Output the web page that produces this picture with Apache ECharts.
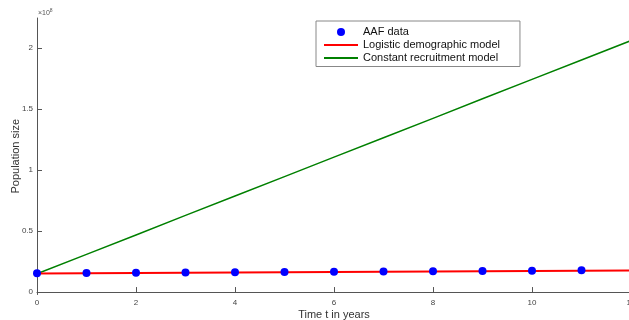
<!DOCTYPE html>
<html>
<head>
<meta charset="utf-8">
<script src="https://cdn.jsdelivr.net/npm/echarts@6/dist/echarts.min.js"></script>
<style>html,body{margin:0;padding:0;background:#fff}#c{width:629px;height:320px}</style>
</head>
<body>
<div id="c"></div>
<script>
var years = [0,1,2,3,4,5,6,7,8,9,10,11];
var aafData = [1.55e7,1.57e7,1.59e7,1.61e7,1.63e7,1.65e7,1.67e7,1.69e7,1.71e7,1.73e7,1.75e7,1.78e7];
var modelYears = [0,1,2,3,4,5,6,7,8,9,10,11,12];
var logistic = [1.52e7,1.54e7,1.56e7,1.58e7,1.60e7,1.62e7,1.64e7,1.66e7,1.68e7,1.70e7,1.72e7,1.74e7,1.76e7];
var constant = [1.50e7,3.09e7,4.68e7,6.28e7,7.87e7,9.46e7,1.105e8,1.264e8,1.423e8,1.583e8,1.742e8,1.901e8,2.06e8];
var xTicks = [0,2,4,6,8,10,12];
var yTicks = [0,0.5e8,1e8,1.5e8,2e8];
var yTickLabels = ['0','0.5','1','1.5','2'];

function pairs(xs, ys){ return xs.map(function(x,i){ return [x, ys[i]]; }); }

var font = 'Liberation Sans, Arial, sans-serif';
var chart = echarts.init(document.getElementById('c'));
chart.setOption({
  animation: false,
  backgroundColor: '#fff',
  grid: { left: 37, right: -2, top: 18, bottom: 25.5, containLabel: false, outerBoundsMode: 'none' },
  xAxis: {
    type: 'value', min: 0, max: 12,
    name: 'Time t in years', nameLocation: 'middle', nameGap: 15, nameMoveOverlap: false,
    nameTextStyle: { fontFamily: font, fontSize: 11, color: '#333' },
    axisLine: { lineStyle: { color: '#555', width: 1 } },
    axisTick: { inside: true, length: 5, lineStyle: { color: '#555' }, customValues: xTicks },
    axisLabel: { fontFamily: font, fontSize: 8, color: '#444', margin: 4, customValues: xTicks },
    splitLine: { show: false }
  },
  yAxis: {
    type: 'value', min: -0.02e8, max: 2.245e8,
    name: 'Population size', nameLocation: 'middle', nameGap: 16, nameMoveOverlap: false,
    nameTextStyle: { fontFamily: font, fontSize: 11, color: '#333' },
    axisLine: { show: true, lineStyle: { color: '#555', width: 1 } },
    axisTick: { show: true, inside: true, length: 5, lineStyle: { color: '#555' }, customValues: yTicks },
    axisLabel: {
      fontFamily: font, fontSize: 8, color: '#444', margin: 4, customValues: yTicks,
      formatter: function(v){ var i = yTicks.indexOf(v); return i >= 0 ? yTickLabels[i] : ''; }
    },
    splitLine: { show: false }
  },
  graphic: [{
    type: 'text', left: 38, top: 8,
    style: {
      text: '{a|\u00d710}{b|8}', fill: '#555',
      rich: { a: { fontFamily: font, fontSize: 7, fill: '#555', padding: [3,0,0,0] }, b: { fontFamily: font, fontSize: 5, fill: '#555', padding: [0,0,3,0] } }
    }
  }],
  legend: {
    orient: 'vertical', left: 316, top: 21,
    padding: [4.5, 20, 2, 7],
    itemWidth: 34, itemHeight: 8, itemGap: 0, itemTextGap: 1,
    borderColor: '#888', borderWidth: 1, backgroundColor: '#fff',
    textStyle: { fontFamily: font, fontSize: 11, color: '#111', lineHeight: 13, height: 13 },
    data: [
      { name: 'AAF data', icon: 'circle' },
      { name: 'Logistic demographic model', itemStyle: { opacity: 0 } },
      { name: 'Constant recruitment model', itemStyle: { opacity: 0 } }
    ]
  },
  series: [
    {
      name: 'Constant recruitment model', type: 'line', data: pairs(modelYears, constant),
      showSymbol: false, symbol: 'none', lineStyle: { color: '#008000', width: 1.5 }, itemStyle: { color: '#008000' }, z: 2
    },
    {
      name: 'Logistic demographic model', type: 'line', data: pairs(modelYears, logistic),
      showSymbol: false, symbol: 'none', lineStyle: { color: '#ff0000', width: 2 }, itemStyle: { color: '#ff0000' }, z: 2
    },
    {
      name: 'AAF data', type: 'scatter', data: pairs(years, aafData),
      symbolSize: 8, itemStyle: { color: '#0000ff', opacity: 1 }, z: 3
    }
  ]
});
</script>
</body>
</html>
